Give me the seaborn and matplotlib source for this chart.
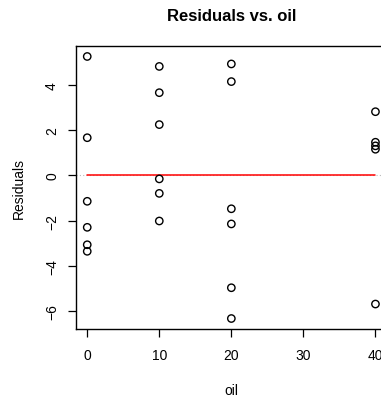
import matplotlib
matplotlib.use("Agg")
import matplotlib.pyplot as plt
import seaborn as sns
import pandas as pd
import numpy as np

sns.set_theme(style="white")
plt.rcParams["font.family"] = ["Liberation Sans", "DejaVu Sans"]
plt.rcParams["text.color"] = "black"
plt.rcParams["axes.labelcolor"] = "black"
plt.rcParams["xtick.color"] = "black"
plt.rcParams["ytick.color"] = "black"

# Residuals grouped by oil level
oil_0 = [5.25, 1.66, -1.15, -2.30, -3.07, -3.36]
oil_10 = [4.81, 3.65, 2.24, -0.16, -0.80, -2.02]
oil_20 = [4.92, 4.14, -1.48, -2.15, -4.97, -6.33]
oil_40 = [2.81, 1.46, 1.30, 1.15, -5.69]

oil_levels = [0, 10, 20, 40]
residual_groups = [oil_0, oil_10, oil_20, oil_40]

x_ticks = [0, 10, 20, 30, 40]
y_ticks = [-6, -4, -2, 0, 2, 4]

df = pd.DataFrame({
    "oil": np.concatenate([[lvl] * len(g) for lvl, g in zip(oil_levels, residual_groups)]),
    "Residuals": np.concatenate(residual_groups),
})

fig = plt.figure(figsize=(3.81, 4.02), dpi=100)
ax = fig.add_axes([0.1987, 0.1791, 0.817, 0.704])

# faint dotted reference line across the panel, red zero line over the data span
ax.axhline(0, color="#bbbbbb", lw=0.8, ls=(0, (1, 2)), zorder=1)
ax.plot([min(oil_levels), max(oil_levels)], [0, 0], color="red", lw=1.1, zorder=2)

sns.scatterplot(data=df, x="oil", y="Residuals", ax=ax, marker="o",
                facecolors="none", edgecolor="black", linewidth=1.0, s=28,
                zorder=3, legend=False)

lo, hi = df["Residuals"].min(), df["Residuals"].max()
r = hi - lo
ax.set_ylim(lo - 0.04 * r, hi + 0.04 * r)
ax.set_xlim(-1.6, 41.6)

ax.set_xticks(x_ticks)
ax.set_xticklabels([str(t) for t in x_ticks], fontsize=10)
ax.set_yticks(y_ticks)
ax.set_yticklabels([str(t).replace("-", "\u2212") for t in y_ticks], fontsize=10,
                   rotation=90, va="center")

ax.tick_params(axis="both", direction="out", length=6, width=0.9, color="black",
               labelcolor="black", bottom=True, left=True)
ax.tick_params(axis="x", pad=8)
ax.tick_params(axis="y", pad=6)
for sp in ax.spines.values():
    sp.set_visible(True)
    sp.set_color("black")
    sp.set_linewidth(1.0)

ax.set_xlabel("oil", fontsize=10, labelpad=15, color="black")
ax.set_ylabel("Residuals", fontsize=10, labelpad=14, color="black")
ax.set_title("Residuals vs. oil", fontsize=12, fontweight="bold", pad=19, color="black")
ax.grid(False)

fig.savefig("out.png", dpi=100)
